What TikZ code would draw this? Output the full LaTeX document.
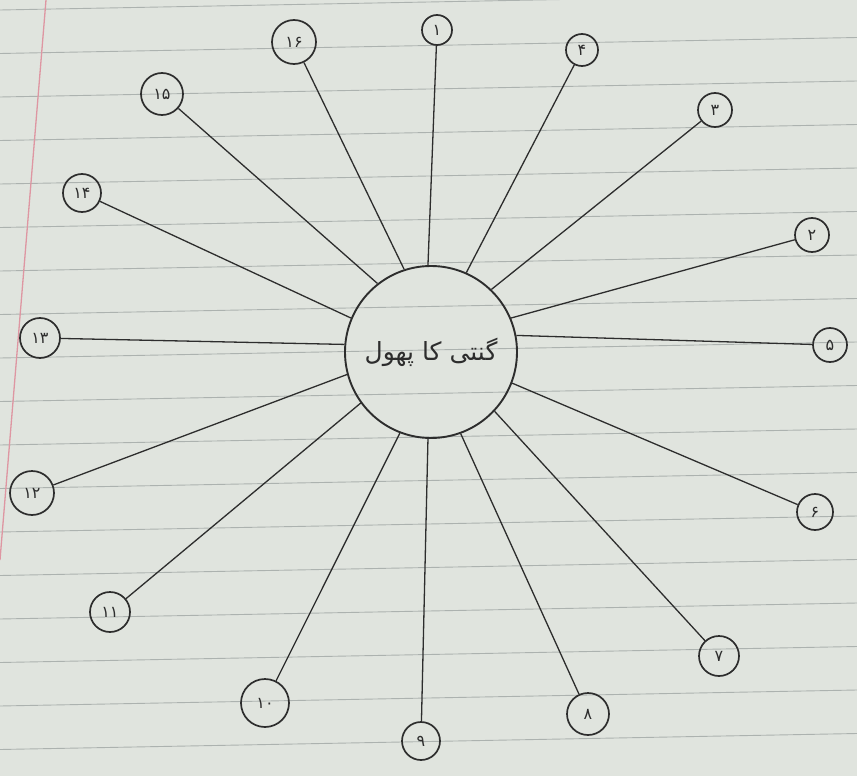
\documentclass[tikz,border=0pt]{standalone}
\usepackage{fontspec}
\newfontfamily\arabicfont[Script=Arabic]{DejaVu Sans}
\TeXXeTstate=1
\definecolor{paper}{RGB}{224,228,222}
\definecolor{rule}{RGB}{172,178,175}
\definecolor{margin}{RGB}{222,150,162}
\definecolor{ink}{RGB}{45,45,45}
\tikzset{
  numc/.style={circle,draw=ink,line width=1.7pt,inner sep=0pt,minimum size=#1,font=\arabicfont\fontsize{16}{16}\selectfont,text=ink},
  numc/.default=32pt,
  spoke/.style={draw=ink,line width=1.3pt},
  hub/.style={circle,draw=ink,line width=1.9pt,minimum size=172pt,inner sep=0pt,font=\arabicfont\fontsize{25}{25}\selectfont,text=ink}
}
\begin{document}
\begin{tikzpicture}[x=1pt,y=-1pt]
\fill[paper] (0,0) rectangle (857,776);
\useasboundingbox (0,0) rectangle (857,776);
% ruled lines of the notebook
\foreach \k in {0,...,18}{
  \draw[rule,line width=0.9pt] (0,{10+43.5*\k}) -- (857,{10+43.5*\k-16});
}
\draw[margin,line width=1.3pt] (46,0) -- (0,560);
% hub
\node[hub] (c) at (431,352) {\beginR گنتی کا پھول\endR};
% numbered circles
\node[numc=30pt] (n1)  at (437,30)  {\beginR ۱\endR};
\node[numc=32pt] (n2)  at (582,50)  {\beginR ۴\endR};
\node[numc=34pt] (n3)  at (715,110) {\beginR ۳\endR};
\node[numc=34pt] (n4)  at (812,235) {\beginR ۲\endR};
\node[numc=34pt] (n5)  at (830,345) {\beginR ۵\endR};
\node[numc=36pt] (n6)  at (815,512) {\beginR ۶\endR};
\node[numc=40pt] (n7)  at (719,656) {\beginR ۷\endR};
\node[numc=42pt] (n8)  at (588,714) {\beginR ۸\endR};
\node[numc=38pt] (n9)  at (421,741) {\beginR ۹\endR};
\node[numc=48pt] (n10) at (265,703) {\beginR ۱۰\endR};
\node[numc=40pt] (n11) at (110,612) {\beginR ۱۱\endR};
\node[numc=44pt] (n12) at (32,493)  {\beginR ۱۲\endR};
\node[numc=40pt] (n13) at (40,338)  {\beginR ۱۳\endR};
\node[numc=38pt] (n14) at (82,193)  {\beginR ۱۴\endR};
\node[numc=42pt] (n15) at (162,94)  {\beginR ۱۵\endR};
\node[numc=44pt] (n16) at (294,42)  {\beginR ۱۶\endR};
% spokes
\path[spoke] (n1)  -- (c.92);
\path[spoke] (n2)  -- (c.66);
\path[spoke] (n3)  -- (c.46);
\path[spoke] (n4)  -- (c.23);
\path[spoke] (n5)  -- (c.11);
\path[spoke] (n6)  -- (c.-21);
\path[spoke] (n7)  -- (c.-43);
\path[spoke] (n8)  -- (c.-70);
\path[spoke] (n9)  -- (c.-92);
\path[spoke] (n10) -- (c.-111);
\path[spoke] (n11) -- (c.-144);
\path[spoke] (n12) -- (c.-165);
\path[spoke] (n13) -- (c.175);
\path[spoke] (n14) -- (c.157);
\path[spoke] (n15) -- (c.128);
\path[spoke] (n16) -- (c.108);
\end{tikzpicture}
\end{document}
